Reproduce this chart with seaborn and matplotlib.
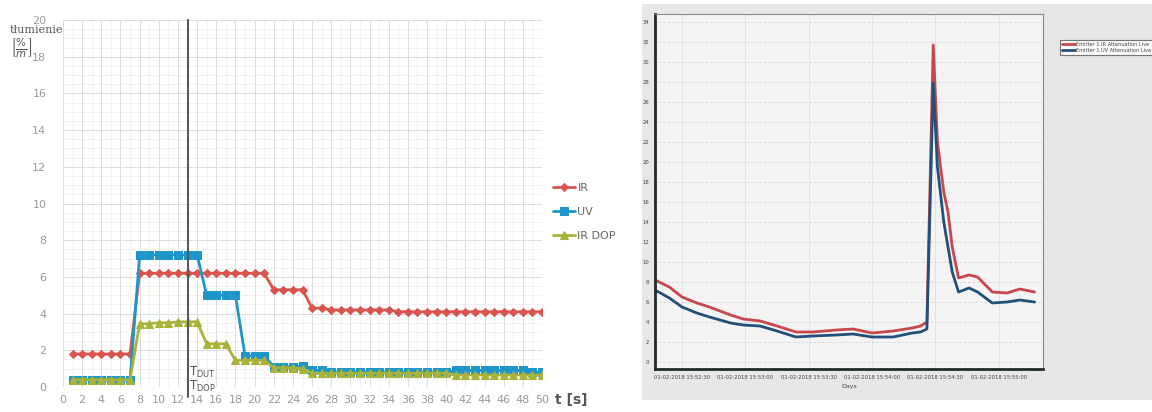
import numpy as np
import pandas as pd
import seaborn as sns
import matplotlib.pyplot as plt
from matplotlib.patches import Rectangle
from matplotlib.ticker import MultipleLocator

sns.set_style("white")
plt.rcParams['font.family'] = ['DejaVu Sans']

# ---------------- left chart data ----------------
t_left = list(range(1, 51))
ir = [1.8, 1.8, 1.8, 1.8, 1.8, 1.8, 1.8,
      6.2, 6.2, 6.2, 6.2, 6.2, 6.2, 6.2, 6.2, 6.2, 6.2, 6.2, 6.2, 6.2, 6.2,
      5.3, 5.3, 5.3, 5.3,
      4.3, 4.3,
      4.2, 4.2, 4.2, 4.2, 4.2, 4.2, 4.2,
      4.1, 4.1, 4.1, 4.1, 4.1, 4.1, 4.1, 4.1, 4.1, 4.1, 4.1, 4.1, 4.1, 4.1, 4.1, 4.1]
uv = [0.4, 0.4, 0.4, 0.4, 0.4, 0.4, 0.4,
      7.2, 7.2, 7.2, 7.2, 7.2, 7.2, 7.2,
      5.0, 5.0, 5.0, 5.0,
      1.7, 1.7, 1.7,
      1.1, 1.1, 1.1, 1.15,
      0.9, 0.9,
      0.8, 0.8, 0.8, 0.8, 0.8, 0.8, 0.8, 0.8, 0.8, 0.8, 0.8, 0.8, 0.8,
      0.9, 0.9, 0.9, 0.9, 0.9, 0.9, 0.9, 0.9,
      0.8, 0.8]
ir_dop = [0.4, 0.4, 0.4, 0.4, 0.4, 0.4, 0.4,
          3.45, 3.45, 3.5, 3.5, 3.55, 3.55, 3.55,
          2.35, 2.35, 2.35,
          1.45, 1.45, 1.45, 1.45,
          1.05, 1.05, 1.05, 1.0,
          0.75, 0.75, 0.75, 0.75, 0.75, 0.75, 0.75, 0.75, 0.75, 0.75, 0.75, 0.75, 0.75, 0.75, 0.75,
          0.65, 0.65, 0.65, 0.65, 0.65, 0.65, 0.65, 0.65, 0.65, 0.65]
left_labels = ["IR", "UV", "IR DOP"]
left_colors = ["#d9544f", "#1f96c9", "#a9b33a"]
left_markers = ["D", "s", "^"]
t_marker = 13

# ---------------- right chart data ----------------
t_right = [-12.8, -6, 0, 7, 13, 23, 29, 37, 45, 54, 62, 73, 81, 90, 100, 109, 113, 116,
           119, 121, 124, 126, 128, 131, 136, 140, 147, 154, 160, 167]
red = [8.2, 7.5, 6.5, 5.9, 5.5, 4.7, 4.3, 4.1, 3.6, 3.0, 3.0, 3.2, 3.3, 2.9, 3.1, 3.4, 3.6, 4.0,
       31.7, 22.0, 17.0, 15.0, 11.5, 8.4, 8.7, 8.5, 7.0, 6.9, 7.3, 7.0]
blue = [7.2, 6.4, 5.5, 4.9, 4.5, 3.9, 3.7, 3.6, 3.1, 2.5, 2.6, 2.7, 2.8, 2.5, 2.5, 2.9, 3.0, 3.3,
        27.9, 19.5, 14.0, 11.5, 9.0, 7.0, 7.4, 7.0, 5.9, 6.0, 6.2, 6.0]
right_tick_pos = [0, 30, 60, 90, 120, 150]
right_tick_labels = ["01-02-2018 15:52:30", "01-02-2018 15:53:00", "01-02-2018 15:53:30",
                     "01-02-2018 15:54:00", "01-02-2018 15:54:30", "01-02-2018 15:55:00"]
right_labels = ["Emitter 1 IR Attenuation Live", "Emitter 1 UV Attenuation Live"]
right_colors = ["#c8474d", "#22507a"]

W, H = 1152, 412
fig = plt.figure(figsize=(W / 100, H / 100), dpi=100)
fig.patch.set_facecolor("white")
narrow = ["Liberation Sans Narrow", "DejaVu Sans"]

# gray panel behind right chart
fig.patches.append(Rectangle((642 / W, 12 / H), (W - 642) / W, (H - 12 - 4) / H,
                             transform=fig.transFigure, facecolor="#e7e7e7",
                             edgecolor="none", zorder=-10))

# ---------------- left axes ----------------
axL = fig.add_axes([63 / W, (H - 387) / H, 479 / W, 367 / H])
axL.set_xlim(0, 50)
axL.set_ylim(0, 20)
axL.xaxis.set_major_locator(MultipleLocator(2))
axL.yaxis.set_major_locator(MultipleLocator(2))
axL.xaxis.set_minor_locator(MultipleLocator(1))
axL.yaxis.set_minor_locator(MultipleLocator(0.5))
axL.grid(True, which="major", color="#dcdcdc", linewidth=0.7)
axL.grid(True, which="minor", color="#ededed", linewidth=0.5)
axL.set_axisbelow(True)
for s in axL.spines.values():
    s.set_visible(False)
axL.tick_params(axis="both", which="both", length=0, labelsize=8, labelcolor="#9a9a9a")
axL.tick_params(axis="y", pad=12)
axL.tick_params(axis="x", pad=6)

dfL = pd.DataFrame({"t": t_left, "IR": ir, "UV": uv, "IR DOP": ir_dop})
msizes = [4.5, 5.5, 5.5]
for lab, col, mk, ms in zip(left_labels, left_colors, left_markers, msizes):
    sns.lineplot(data=dfL, x="t", y=lab, ax=axL, color=col, marker=mk, markersize=ms,
                 markeredgecolor=col, linewidth=2, label=lab, zorder=3)
axL.set_xlabel("")
axL.set_ylabel("")

axL.plot([t_marker, t_marker], [-0.55, 20], color="#5a5a5a", linewidth=1.5,
         clip_on=False, zorder=4)
axL.text(t_marker + 0.2, 0.8, r"T$_{\mathregular{DUT}}$", fontsize=8.5, color="#555555",
         va="center", ha="left")
axL.text(t_marker + 0.2, 0.05, r"T$_{\mathregular{DOP}}$", fontsize=8.5, color="#555555",
         va="center", ha="left", clip_on=False)

leg = axL.legend(loc="center left", bbox_to_anchor=(543 / W, (H - 212) / H),
                 bbox_transform=fig.transFigure, frameon=False, fontsize=8,
                 labelspacing=1.25, handlelength=2.0, handletextpad=0.2)
for txt in leg.get_texts():
    txt.set_color("#666666")

fig.text(555 / W, (H - 400) / H, "t [s]", fontsize=10, fontweight="bold",
         color="#555555", ha="left", va="center")
fig.text(36 / W, (H - 30) / H, "tłumienie", fontsize=8, family="DejaVu Serif",
         color="#555555", ha="center", va="center")
fig.text(21 / W, (H - 48) / H, r"$\left[\frac{\%}{m}\right]$", fontsize=10.5,
         color="#555555", ha="center", va="center")

# ---------------- right axes ----------------
axR = fig.add_axes([655 / W, (H - 369) / H, 388 / W, 355 / H])
axR.set_facecolor("#f4f4f4")
axR.set_xlim(-12.8, 171)
axR.set_ylim(-0.7, 34.8)
axR.set_yticks(np.arange(0, 35, 2))
axR.set_xticks(right_tick_pos)
axR.set_xticklabels(right_tick_labels)
axR.grid(True, axis="y", color="#d4d4d4", linewidth=0.6, linestyle=(0, (3, 2)))
axR.grid(True, axis="x", color="#dedede", linewidth=0.6)
axR.set_axisbelow(True)
axR.tick_params(axis="both", labelsize=3.8, labelcolor="#444444", length=2,
                color="#333333", pad=2)
for lbl in axR.get_xticklabels() + axR.get_yticklabels():
    lbl.set_family(narrow)
for side in ["left", "bottom"]:
    axR.spines[side].set_color("#1f2b2b")
    axR.spines[side].set_linewidth(2)
for side in ["top", "right"]:
    axR.spines[side].set_color("#8a8a8a")
    axR.spines[side].set_linewidth(0.8)

dfR = pd.DataFrame({"t": t_right, right_labels[0]: red, right_labels[1]: blue})
for lab, col in zip(right_labels, right_colors):
    sns.lineplot(data=dfR, x="t", y=lab, ax=axR, color=col, linewidth=2, label=lab)
axR.set_ylabel("")
axR.set_xlabel("Days", fontsize=4.5, color="#444444", labelpad=3, family=narrow)

legR = axR.legend(loc="upper left", bbox_to_anchor=(1057 / W, (H - 37) / H),
                  bbox_transform=fig.transFigure, frameon=True,
                  prop={"family": narrow, "size": 3.6},
                  fancybox=False, edgecolor="#555555", handlelength=2.6,
                  handletextpad=0.4, borderpad=0.4, labelspacing=0.3)
legR.get_frame().set_linewidth(0.8)
legR.get_frame().set_facecolor("white")
for line in legR.get_lines():
    line.set_linewidth(2)
for txt in legR.get_texts():
    txt.set_color("#444444")

fig.savefig("out.png", dpi=100)
